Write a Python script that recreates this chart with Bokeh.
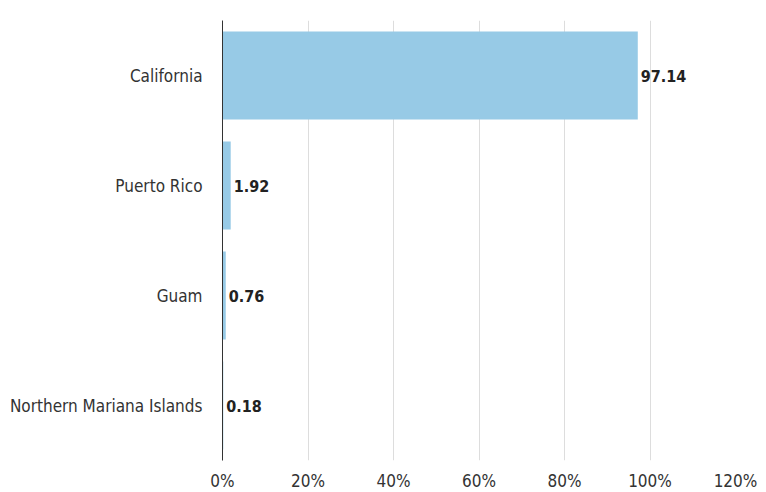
from bokeh.plotting import figure
from bokeh.models import ColumnDataSource, FixedTicker, CustomJSTickFormatter
from bokeh.core.properties import value
from bokeh.embed import file_html
from bokeh.resources import INLINE

categories = ["California", "Puerto Rico", "Guam", "Northern Mariana Islands"]
values = [97.14, 1.92, 0.76, 0.18]
labels = ["97.14", "1.92", "0.76", "0.18"]
x_ticks = [0, 20, 40, 60, 80, 100, 120]

FONT = "DejaVu Sans Condensed"

src = ColumnDataSource(dict(cat=categories, val=values, lab=labels))

p = figure(y_range=list(reversed(categories)), x_range=(0, 120),
           output_backend="svg", toolbar_location=None,
           min_border_left=222, min_border_right=23, min_border_top=20, min_border_bottom=28)
p.frame_width = 513
p.frame_height = 440
p.outline_line_color = None

p.hbar(y="cat", right="val", left=0, height=0.8, source=src, color="#97cae6", line_color=None)
p.text(x="val", y="cat", text="lab", source=src, x_offset=3, text_baseline="middle",
       text_font=value(FONT), text_font_style="bold", text_font_size="16px", text_color="#222222")

p.xaxis.ticker = FixedTicker(ticks=x_ticks)
p.xaxis.formatter = CustomJSTickFormatter(code="return tick + '%';")
p.xaxis.axis_line_color = None
p.xaxis.major_tick_line_color = None
p.xaxis.minor_tick_line_color = None
p.xaxis.major_label_text_font = FONT
p.xaxis.major_label_text_font_size = "17px"
p.xaxis.major_label_text_color = "#333333"
p.xaxis.major_label_standoff = 4

p.yaxis.axis_line_color = "#333333"
p.yaxis.axis_line_width = 1
p.yaxis.major_tick_line_color = None
p.yaxis.minor_tick_line_color = None
p.yaxis.major_label_text_font = FONT
p.yaxis.major_label_text_font_size = "17px"
p.yaxis.major_label_text_color = "#333333"
p.yaxis.major_label_standoff = 14

p.xgrid.grid_line_color = "#dddddd"
p.ygrid.grid_line_color = None

open("out.html", "w").write(file_html(p, INLINE))
